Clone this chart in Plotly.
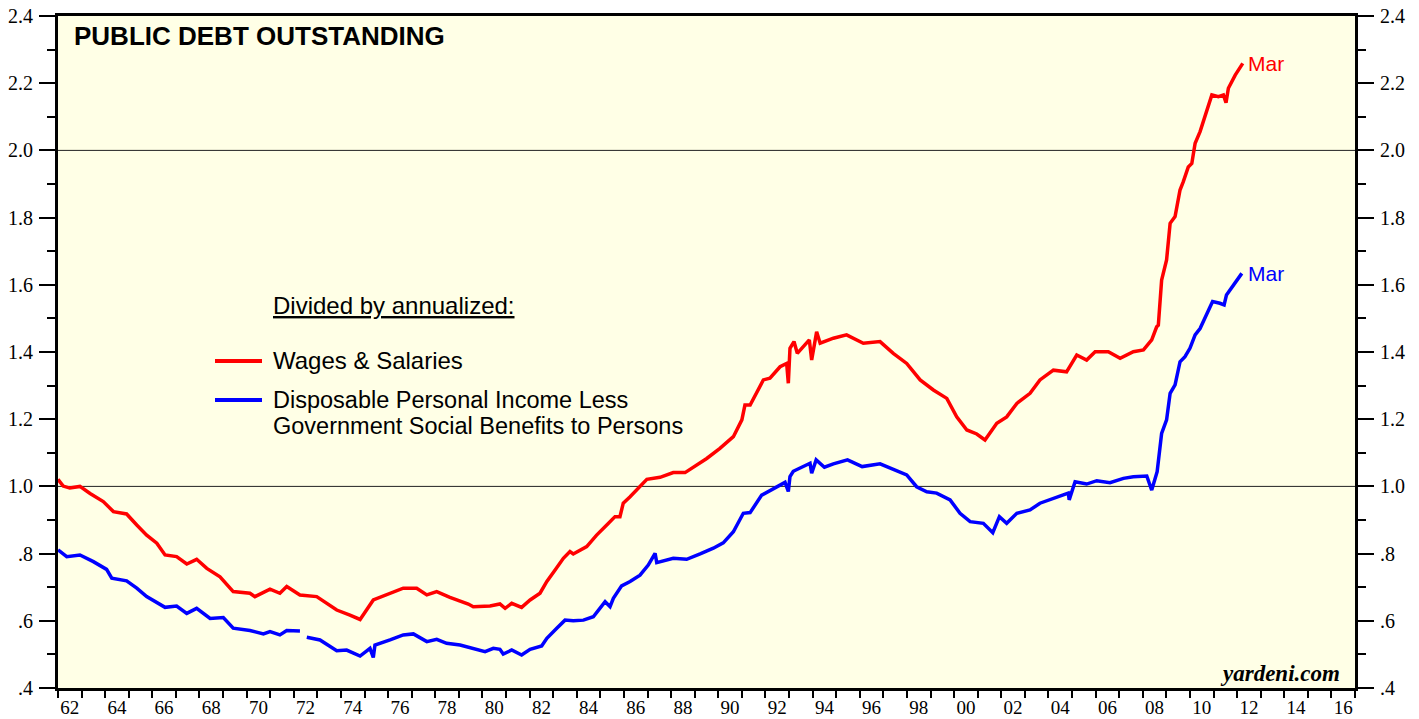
import plotly.graph_objects as go

# ---------------- data ----------------
red_years = [1962.00, 1962.22, 1962.50, 1962.93, 1963.36, 1963.92, 1964.35, 1964.91, 1965.34, 1965.76,
             1966.19, 1966.54, 1967.03, 1967.46, 1967.88, 1968.31, 1968.87, 1969.43, 1970.14, 1970.35,
             1970.99, 1971.41, 1971.70, 1972.26, 1972.97, 1973.82, 1974.38, 1974.81, 1975.37, 1976.08,
             1976.64, 1977.21, 1977.64, 1978.06, 1978.62, 1979.40, 1979.61, 1980.32, 1980.74, 1980.96,
             1981.24, 1981.66, 1982.02, 1982.44, 1982.73, 1983.08, 1983.43, 1983.71, 1983.85, 1984.42,
             1984.84, 1985.27, 1985.62, 1985.83, 1985.97, 1986.26, 1986.68, 1986.97, 1987.53, 1988.09,
             1988.59, 1989.09, 1989.51, 1990.07, 1990.64, 1991.00, 1991.13, 1991.35, 1991.63, 1991.91,
             1992.19, 1992.62, 1992.90, 1992.97, 1993.04, 1993.21, 1993.35, 1993.61, 1993.86, 1993.96,
             1994.17, 1994.32, 1994.88, 1995.44, 1996.15, 1996.86, 1997.42, 1997.99, 1998.56, 1999.12,
             1999.69, 2000.11, 2000.54, 2000.96, 2001.31, 2001.81, 2002.23, 2002.66, 2003.22, 2003.64,
             2004.21, 2004.77, 2005.20, 2005.62, 2005.98, 2006.54, 2007.04, 2007.60, 2008.03, 2008.38,
             2008.59, 2008.66, 2008.80, 2009.01, 2009.16, 2009.37, 2009.58, 2009.72, 2009.93, 2010.08,
             2010.22, 2010.43, 2010.64, 2010.93, 2011.21, 2011.42, 2011.53, 2011.63, 2011.92, 2012.24]
red_vals = [1.021, 1.001, 0.995, 1.000, 0.979, 0.955, 0.925, 0.918, 0.885, 0.855,
            0.831, 0.796, 0.791, 0.769, 0.783, 0.756, 0.731, 0.687, 0.682, 0.672,
            0.694, 0.682, 0.702, 0.677, 0.672, 0.632, 0.617, 0.604, 0.662, 0.682,
            0.697, 0.697, 0.677, 0.687, 0.670, 0.650, 0.642, 0.644, 0.650, 0.637,
            0.652, 0.640, 0.662, 0.682, 0.717, 0.751, 0.786, 0.806, 0.799, 0.821,
            0.855, 0.885, 0.910, 0.910, 0.950, 0.969, 0.999, 1.021, 1.027, 1.041,
            1.041, 1.064, 1.083, 1.113, 1.148, 1.198, 1.242, 1.242, 1.282, 1.317,
            1.322, 1.356, 1.366, 1.307, 1.411, 1.431, 1.396, 1.416, 1.436, 1.376,
            1.460, 1.426, 1.441, 1.451, 1.426, 1.431, 1.396, 1.366, 1.317, 1.287,
            1.262, 1.207, 1.168, 1.156, 1.138, 1.188, 1.207, 1.247, 1.277, 1.317,
            1.346, 1.341, 1.391, 1.376, 1.401, 1.401, 1.381, 1.401, 1.406, 1.436,
            1.475, 1.480, 1.614, 1.674, 1.783, 1.803, 1.882, 1.907, 1.951, 1.961,
            2.021, 2.056, 2.100, 2.165, 2.160, 2.165, 2.142, 2.185, 2.224, 2.259]

blue_years = [1962.00, 1962.37, 1962.93, 1963.50, 1964.06, 1964.28, 1964.91, 1965.34, 1965.76, 1966.19,
              1966.54, 1967.03, 1967.46, 1967.88, 1968.45, 1969.01, 1969.43, 1970.14, 1970.71, 1970.99,
              1971.41, 1971.70, 1972.26, 1972.40, 1972.55, 1973.11, 1973.82, 1974.24, 1974.81, 1975.23,
              1975.37, 1975.44, 1976.08, 1976.64, 1977.07, 1977.64, 1978.06, 1978.48, 1979.05, 1979.40,
              1980.11, 1980.46, 1980.74, 1980.88, 1981.24, 1981.66, 1982.02, 1982.51, 1982.73, 1983.15,
              1983.50, 1983.85, 1984.28, 1984.70, 1985.20, 1985.41, 1985.55, 1985.90, 1986.26, 1986.68,
              1987.03, 1987.32, 1987.39, 1988.09, 1988.66, 1989.23, 1989.79, 1990.21, 1990.64, 1991.06,
              1991.35, 1991.84, 1992.33, 1992.83, 1992.97, 1993.04, 1993.18, 1993.61, 1993.89, 1993.96,
              1994.15, 1994.50, 1994.88, 1995.48, 1996.10, 1996.86, 1997.42, 1997.99, 1998.41, 1998.84,
              1999.26, 1999.83, 2000.25, 2000.68, 2001.24, 2001.64, 2001.92, 2002.23, 2002.66, 2003.22,
              2003.64, 2004.21, 2004.84, 2004.88, 2005.13, 2005.62, 2006.05, 2006.61, 2007.18, 2007.60,
              2008.17, 2008.38, 2008.61, 2008.80, 2009.01, 2009.16, 2009.37, 2009.58, 2009.79, 2010.00,
              2010.22, 2010.43, 2010.71, 2010.96, 2011.27, 2011.45, 2011.55, 2011.85, 2012.20]
blue_vals = [0.811, 0.791, 0.796, 0.776, 0.753, 0.727, 0.719, 0.697, 0.672, 0.654,
             0.640, 0.644, 0.622, 0.637, 0.607, 0.610, 0.578, 0.571, 0.561, 0.568,
             0.558, 0.571, 0.570, None, 0.551, 0.543, 0.511, 0.513, 0.495, 0.518,
             0.491, 0.528, 0.543, 0.558, 0.561, 0.538, 0.545, 0.533, 0.528, 0.521,
             0.508, 0.518, 0.515, 0.501, 0.513, 0.498, 0.515, 0.525, 0.548, 0.578,
             0.602, 0.600, 0.602, 0.612, 0.657, 0.642, 0.667, 0.704, 0.717, 0.736,
             0.766, 0.801, 0.773, 0.786, 0.783, 0.799, 0.816, 0.832, 0.865, 0.920,
             0.922, 0.974, 0.994, 1.012, 0.985, 1.029, 1.045, 1.061, 1.069, 1.039,
             1.079, 1.057, 1.067, 1.079, 1.059, 1.067, 1.051, 1.034, 0.999, 0.984,
             0.980, 0.960, 0.920, 0.895, 0.890, 0.862, 0.910, 0.890, 0.920, 0.930,
             0.950, 0.965, 0.980, 0.960, 1.014, 1.007, 1.017, 1.011, 1.024, 1.029,
             1.031, 0.989, 1.044, 1.158, 1.198, 1.277, 1.302, 1.371, 1.386, 1.411,
             1.451, 1.470, 1.510, 1.550, 1.545, 1.540, 1.570, 1.599, 1.634]

red_name = "Wages & Salaries"
blue_name_lines = ["Disposable Personal Income Less", "Government Social Benefits to Persons"]

x_tick_labels = ['62', '64', '66', '68', '70', '72', '74', '76', '78', '80', '82', '84', '86', '88',
                 '90', '92', '94', '96', '98', '00', '02', '04', '06', '08', '10', '12', '14', '16']
x_label_pos = [1962.5 + 2 * i for i in range(len(x_tick_labels))]
x_minor_pos = [1962 + i for i in range(56)]

y_tick_vals = [0.4, 0.6, 0.8, 1.0, 1.2, 1.4, 1.6, 1.8, 2.0, 2.2, 2.4]
y_tick_text = ['.4', '.6', '.8', '1.0', '1.2', '1.4', '1.6', '1.8', '2.0', '2.2', '2.4']
y_minor_vals = [0.5, 0.7, 0.9, 1.1, 1.3, 1.5, 1.7, 1.9, 2.1, 2.3]
grid_levels = [1.0, 2.0]

# ---------------- figure ----------------
RED = '#FF0000'
BLUE = '#0000FF'
SANS = 'Liberation Sans, Arial, sans-serif'
SERIF = 'Liberation Serif, Times New Roman, serif'

fig = go.Figure()
fig.add_trace(go.Scatter(x=red_years, y=red_vals, mode='lines', name=red_name,
                         line=dict(color=RED, width=3.5), showlegend=False, yaxis='y'))
fig.add_trace(go.Scatter(x=blue_years, y=blue_vals, mode='lines', name=' '.join(blue_name_lines),
                         line=dict(color=BLUE, width=3.5), showlegend=False, yaxis='y2',
                         connectgaps=False))

yax_common = dict(
    range=[0.4, 2.4], tickmode='array', tickvals=y_tick_vals, ticktext=y_tick_text,
    ticks='outside', ticklen=16, tickwidth=1.5, tickcolor='black',
    minor=dict(tickmode='array', tickvals=y_minor_vals, ticks='outside', ticklen=8,
               tickwidth=1.5, tickcolor='black', showgrid=False),
    showline=True, linewidth=3, linecolor='black', showgrid=False, zeroline=False,
    tickfont=dict(family=SERIF, size=20, color='black'),
    automargin=False, ticklabelstandoff=2,
)

fig.update_layout(
    width=1419, height=719,
    margin=dict(l=58, r=64, t=16, b=31, autoexpand=False),
    paper_bgcolor='white',
    plot_bgcolor='rgb(255,255,230)',
    xaxis=dict(
        range=[1962, 2017], tickmode='array', tickvals=x_label_pos, ticktext=x_tick_labels,
        ticks='', showline=True, linewidth=3, linecolor='black', mirror=True,
        showgrid=False, zeroline=False, automargin=False,
        minor=dict(tickmode='array', tickvals=x_minor_pos, ticks='outside', ticklen=7,
                   tickwidth=2, tickcolor='black', showgrid=False),
        tickfont=dict(family=SERIF, size=19, color='black'),
        ticklabelstandoff=0,
    ),
    yaxis=dict(side='left', **yax_common),
    yaxis2=dict(side='right', overlaying='y', **yax_common),
)

for lvl in grid_levels:
    fig.add_shape(type='line', xref='paper', x0=0, x1=1, yref='y', y0=lvl, y1=lvl,
                  line=dict(color='#222222', width=1), layer='below')

def px_x(x):
    return (x - 58) / 1297.0

def px_y(y):
    return (688 - y) / 672.0

# title
fig.add_annotation(text='<b>PUBLIC DEBT OUTSTANDING</b>', xref='paper', yref='paper',
                   x=px_x(72), y=px_y(36), xanchor='left', yanchor='middle', showarrow=False,
                   font=dict(family=SANS, size=26, color='black'))

# legend (custom)
fig.add_annotation(text='<u>Divided by annualized:</u>', xref='paper', yref='paper',
                   x=px_x(271), y=px_y(305), xanchor='left', yanchor='middle', showarrow=False,
                   font=dict(family=SANS, size=24, color='black'))
fig.add_shape(type='line', xref='paper', yref='paper', x0=px_x(215), x1=px_x(262),
              y0=px_y(361), y1=px_y(361), line=dict(color=RED, width=4))
fig.add_annotation(text=red_name, xref='paper', yref='paper',
                   x=px_x(271), y=px_y(360), xanchor='left', yanchor='middle', showarrow=False,
                   font=dict(family=SANS, size=24, color='black'))
fig.add_shape(type='line', xref='paper', yref='paper', x0=px_x(215), x1=px_x(262),
              y0=px_y(400), y1=px_y(400), line=dict(color=BLUE, width=4))
fig.add_annotation(text=blue_name_lines[0], xref='paper', yref='paper',
                   x=px_x(271), y=px_y(400), xanchor='left', yanchor='middle', showarrow=False,
                   font=dict(family=SANS, size=23.5, color='black'))
fig.add_annotation(text=blue_name_lines[1], xref='paper', yref='paper',
                   x=px_x(271), y=px_y(426), xanchor='left', yanchor='middle', showarrow=False,
                   font=dict(family=SANS, size=23.5, color='black'))

# end labels
fig.add_annotation(text='Mar', x=red_years[-1], y=red_vals[-1], xref='x', yref='y',
                   xanchor='left', yanchor='middle', xshift=3, showarrow=False,
                   font=dict(family=SANS, size=21, color=RED))
fig.add_annotation(text='Mar', x=blue_years[-1], y=blue_vals[-1], xref='x', yref='y',
                   xanchor='left', yanchor='middle', xshift=4, showarrow=False,
                   font=dict(family=SANS, size=21, color=BLUE))

# source
fig.add_annotation(text='<b><i>yardeni.com</i></b>', xref='paper', yref='paper',
                   x=px_x(1342), y=px_y(673), xanchor='right', yanchor='middle', showarrow=False,
                   font=dict(family=SERIF, size=23, color='black'))

fig.write_html('out.html', config={'displayModeBar': False},
               post_script="document.body.style.margin='0px';document.body.style.padding='0px';")
